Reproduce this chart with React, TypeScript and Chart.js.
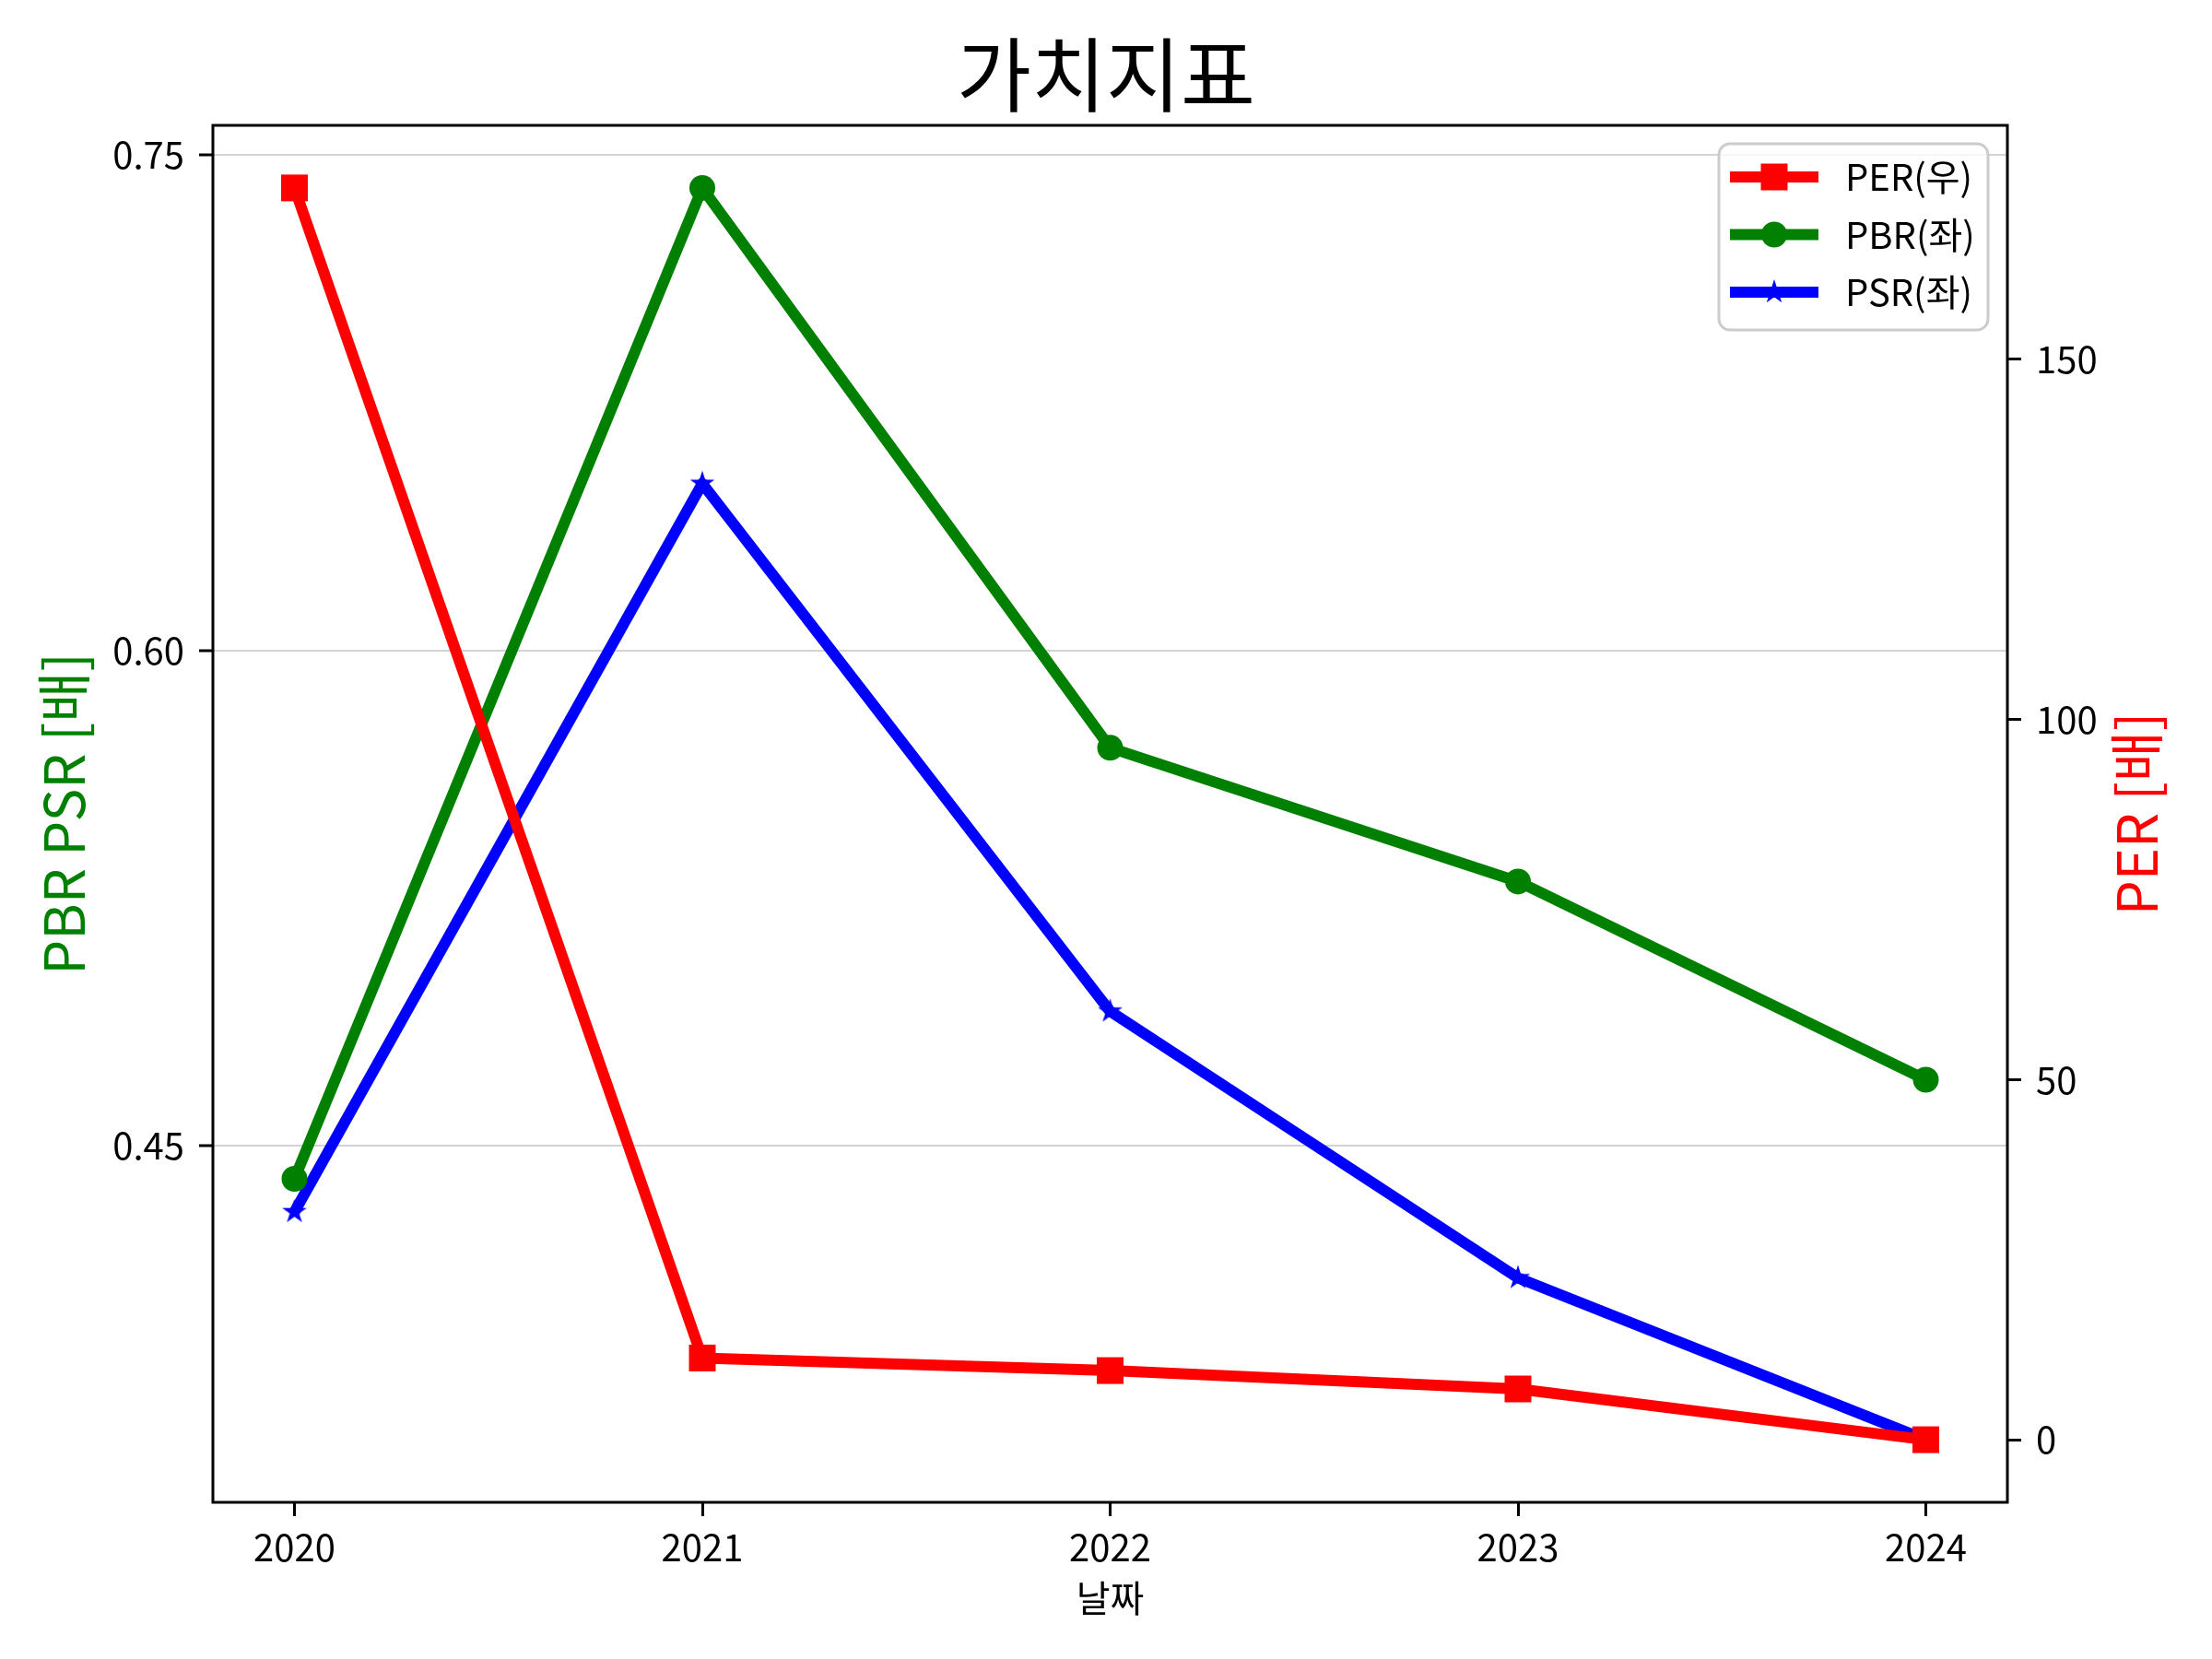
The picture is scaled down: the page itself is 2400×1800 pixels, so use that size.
import React, { useEffect, useRef } from 'react';
import { Chart, registerables } from 'chart.js';

Chart.register(...registerables);

// ---- data ----
const years = ['2020', '2021', '2022', '2023', '2024'];
const perValues = [173.8, 11.35, 9.6, 7.05, 0.0];
const pbrValues = [0.44, 0.74, 0.5705, 0.53, 0.47];
const psrValues = [0.43, 0.6505, 0.4907, 0.41, 0.361];
const leftTicks = [0.45, 0.6, 0.75];
const rightTicks = [0, 50, 100, 150];
const seriesLabels = ['PER(우)', 'PBR(좌)', 'PSR(좌)'];
const seriesColors = ['#ff0000', '#008000', '#0000ff'];
const titleText = '가치지표';
const xTitleText = '날짜';
const leftTitleText = 'PBR PSR [배]';
const rightTitleText = 'PER [배]';

const FONT = '"Noto Sans CJK KR", "Noto Sans", sans-serif';

function padRange(vals: number[], frac = 0.05) {
  const lo = Math.min(...vals);
  const hi = Math.max(...vals);
  const m = (hi - lo) * frac;
  return [lo - m, hi + m];
}

function makeStar(color: string, R: number) {
  const c = document.createElement('canvas');
  const s = Math.ceil(R * 2 + 2);
  c.width = s;
  c.height = s;
  const g = c.getContext('2d')!;
  g.translate(s / 2, s / 2);
  g.beginPath();
  for (let k = 0; k < 10; k++) {
    const r = k % 2 === 0 ? R : R * 0.382;
    const a = -Math.PI / 2 + (k * Math.PI) / 5;
    const px = r * Math.cos(a);
    const py = r * Math.sin(a);
    if (k === 0) g.moveTo(px, py);
    else g.lineTo(px, py);
  }
  g.closePath();
  g.fillStyle = color;
  g.fill();
  return c;
}

export default function App() {
  const ref = useRef<HTMLCanvasElement | null>(null);

  useEffect(() => {
    const canvas = ref.current;
    if (!canvas) return;
    const star = makeStar(seriesColors[2], 14);

    const [lMin, lMax] = padRange([...pbrValues, ...psrValues]);
    const [rMin, rMax] = padRange(perValues);

    const frameAndLegend = {
      id: 'frameAndLegend',
      afterDatasetsDraw(chart: any) {
        const { ctx, chartArea: a } = chart;
        ctx.save();
        ctx.lineWidth = 3;
        ctx.strokeStyle = '#000';
        ctx.strokeRect(a.left, a.top, a.right - a.left, a.bottom - a.top);
        ctx.restore();
      },
      afterDraw(chart: any) {
        const { ctx, chartArea: a } = chart;
        ctx.save();
        // right axis title (reads bottom-to-top)
        ctx.translate(2318, (a.top + a.bottom) / 2);
        ctx.rotate(-Math.PI / 2);
        ctx.fillStyle = seriesColors[0];
        ctx.font = `60px ${FONT}`;
        ctx.textAlign = 'center';
        ctx.textBaseline = 'middle';
        ctx.fillText(rightTitleText, 0, 0);
        ctx.restore();

        // legend
        const boxW = 292;
        const boxH = 202;
        const x0 = a.right - 21 - boxW;
        const y0 = a.top + 20;
        ctx.save();
        ctx.beginPath();
        (ctx as any).roundRect(x0, y0, boxW, boxH, 12);
        ctx.fillStyle = 'rgba(255,255,255,0.8)';
        ctx.fill();
        ctx.lineWidth = 3;
        ctx.strokeStyle = '#cccccc';
        ctx.stroke();
        seriesLabels.forEach((lab, i) => {
          const cy = y0 + 36 + i * 62.5;
          const lx0 = x0 + 12;
          const lx1 = x0 + 108;
          const mx = (lx0 + lx1) / 2;
          const col = seriesColors[i];
          ctx.strokeStyle = col;
          ctx.lineWidth = 12;
          ctx.lineCap = 'butt';
          ctx.beginPath();
          ctx.moveTo(lx0, cy);
          ctx.lineTo(lx1, cy);
          ctx.stroke();
          ctx.fillStyle = col;
          if (i === 0) {
            ctx.fillRect(mx - 14.5, cy - 14.5, 29, 29);
          } else if (i === 1) {
            ctx.beginPath();
            ctx.arc(mx, cy, 14, 0, Math.PI * 2);
            ctx.fill();
          } else {
            ctx.drawImage(star, mx - star.width / 2, cy - star.height / 2);
          }
          ctx.fillStyle = '#000';
          ctx.font = `40px ${FONT}`;
          ctx.textAlign = 'left';
          ctx.textBaseline = 'middle';
          ctx.fillText(lab, x0 + 137, cy);
        });
        ctx.restore();
      },
    };

    const mk = (vals: number[]) => vals.map((v, i) => ({ x: i, y: v }));

    const chart = new Chart(canvas, {
      type: 'line',
      data: {
        datasets: [
          {
            label: seriesLabels[0],
            data: mk(perValues),
            yAxisID: 'y1',
            borderColor: seriesColors[0],
            backgroundColor: seriesColors[0],
            borderWidth: 12,
            pointStyle: 'rect',
            pointRadius: 20.5,
            pointBorderWidth: 0,
            borderJoinStyle: 'round',
            tension: 0,
          },
          {
            label: seriesLabels[1],
            data: mk(pbrValues),
            yAxisID: 'y',
            borderColor: seriesColors[1],
            backgroundColor: seriesColors[1],
            borderWidth: 12,
            pointStyle: 'circle',
            pointRadius: 14,
            pointBorderWidth: 0,
            borderJoinStyle: 'round',
            tension: 0,
          },
          {
            label: seriesLabels[2],
            data: mk(psrValues),
            yAxisID: 'y',
            borderColor: seriesColors[2],
            backgroundColor: seriesColors[2],
            borderWidth: 12,
            pointStyle: star as any,
            pointRadius: 14,
            pointBorderWidth: 0,
            borderJoinStyle: 'round',
            tension: 0,
          },
        ],
      },
      options: {
        animation: false,
        responsive: false,
        devicePixelRatio: 1,
        layout: { padding: 0 },
        plugins: {
          legend: { display: false },
          tooltip: { enabled: false },
          title: {
            display: true,
            text: titleText,
            color: '#000',
            font: { family: FONT, size: 88, weight: 'normal', lineHeight: 1.2 },
            padding: { top: 27.7, bottom: 2.7 },
          },
        },
        scales: {
          x: {
            type: 'linear',
            position: 'bottom',
            min: -0.2,
            max: 4.2,
            afterBuildTicks: (s: any) => {
              s.ticks = years.map((_, i) => ({ value: i }));
            },
            afterFit: (s: any) => {
              s.height = 170;
            },
            ticks: {
              color: '#000',
              font: { family: FONT, size: 40, lineHeight: 1.2 },
              padding: 10,
              maxRotation: 0,
              autoSkip: false,
              callback: (v: any) => years[Math.round(Number(v))],
            },
            grid: {
              display: true,
              drawOnChartArea: false,
              drawTicks: true,
              tickLength: 15,
              tickWidth: 3,
              tickColor: '#000',
            },
            border: { display: false },
            title: {
              display: true,
              text: xTitleText,
              color: '#000',
              font: { family: FONT, size: 40, lineHeight: 1.2 },
              padding: { top: 0, bottom: 42 },
            },
          },
          y: {
            type: 'linear',
            position: 'left',
            min: lMin,
            max: lMax,
            afterBuildTicks: (s: any) => {
              s.ticks = leftTicks.map((v) => ({ value: v }));
            },
            afterFit: (s: any) => {
              s.width = 231;
            },
            ticks: {
              color: '#000',
              font: { family: FONT, size: 40, lineHeight: 1.2 },
              padding: 16,
              callback: (v: any) => Number(v).toFixed(2),
            },
            grid: {
              display: true,
              drawOnChartArea: true,
              color: '#d3d3d3',
              lineWidth: 2,
              drawTicks: true,
              tickLength: 15,
              tickWidth: 3,
              tickColor: '#000',
            },
            border: { display: false },
            title: {
              display: true,
              text: leftTitleText,
              color: seriesColors[1],
              font: { family: FONT, size: 60, lineHeight: 1.2 },
              padding: { top: 33, bottom: 0 },
            },
          },
          y1: {
            type: 'linear',
            position: 'right',
            min: rMin,
            max: rMax,
            afterBuildTicks: (s: any) => {
              s.ticks = rightTicks.map((v) => ({ value: v }));
            },
            afterFit: (s: any) => {
              s.width = 222;
            },
            ticks: {
              color: '#000',
              font: { family: FONT, size: 40, lineHeight: 1.2 },
              padding: 16,
              callback: (v: any) => String(Math.round(Number(v))),
            },
            grid: {
              display: true,
              drawOnChartArea: false,
              drawTicks: true,
              tickLength: 15,
              tickWidth: 3,
              tickColor: '#000',
            },
            border: { display: false },
            title: { display: false },
          },
        },
      },
      plugins: [frameAndLegend],
    } as any);

    return () => {
      chart.destroy();
    };
  }, []);

  return (
    <div style={{ position: 'absolute', left: 0, top: 0, width: 2400, height: 1800, background: '#fff' }}>
      <canvas ref={ref} width={2400} height={1800} style={{ display: 'block', width: 2400, height: 1800 }} />
    </div>
  );
}
